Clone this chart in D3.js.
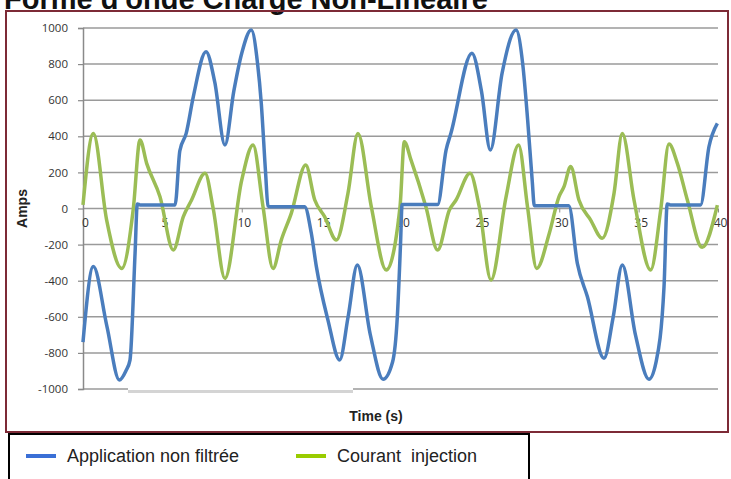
<!DOCTYPE html>
<html>
<head>
<meta charset="utf-8">
<script src="https://cdn.jsdelivr.net/npm/d3@7"></script>
<style>
  body { margin: 0; background: #fff; }
  svg { display: block; }
</style>
</head>
<body>
<div id="chart"></div>
<script>
// x ticks and y ticks
var xTicks = [0, 5, 10, 15, 20, 25, 30, 35, 40];
var yTicks = [-1000, -800, -600, -400, -200, 0, 200, 400, 600, 800, 1000];

// Application non filtrée (blue) : time / amps
var blueT = [0, 0.65, 1.5, 2.29, 2.7, 2.96, 3.28, 3.42, 3.6, 5.8, 6.1, 6.5, 6.95, 7.75, 8.3, 8.94, 9.5, 10.0, 10.6, 11.0, 11.23, 11.5, 11.65, 11.8, 13.96,
  14.38, 14.7, 15.43, 16.17, 16.7, 17.28, 18.1, 18.9, 19.5, 19.8, 20.0, 20.1, 22.34, 22.87, 23.18, 24.5, 25.1, 25.66, 26.4, 27.28, 27.7, 28.01, 28.3, 28.43, 28.6,
  30.6, 31.14, 31.77, 32.82, 33.4, 33.97, 34.8, 35.65, 36.1, 36.6, 36.8, 37.0, 38.9, 39.43, 39.96];
var blueV = [-740, -322, -650, -950, -900, -840, -247, 25, 20, 20, 320, 416, 620, 869, 700, 352, 650, 860, 989, 800, 583, 200, 15, 10, 10,
  -136, -322, -618, -839, -600, -313, -700, -946, -850, -600, -200, 22, 22, 324, 418, 860, 650, 324, 750, 989, 800, 490, 150, 15, 15,
  15, -304, -488, -830, -600, -313, -700, -946, -850, -433, 25, 20, 20, 342, 472];

// Courant injection (green)
var greenT = [0, 0.65, 1.49, 2.44, 3.17, 3.59, 4.01, 4.85, 5.69, 6.32, 6.84, 7.69, 8.2, 8.94, 10.0, 10.71, 11.34, 11.97, 12.49, 13.12, 14.03, 14.6, 15.22, 15.96,
  16.69, 17.32, 18.16, 19.1, 19.97, 20.24, 20.66, 21.6, 22.34, 23.08, 23.5, 24.38, 24.96, 25.7, 26.65, 27.44, 28.0, 28.58, 29.37, 29.98, 30.3, 30.72,
  31.24, 31.98, 32.71, 33.45, 33.97, 34.71, 35.76, 36.39, 36.91, 37.44, 38.07, 39.0, 39.96];
var greenV = [20, 416, -64, -332, 0, 380, 250, 65, -230, -45, 47, 195, 0, -387, 158, 352, 10, -332, -175, -27, 241, 47, -45, -175,
  84, 416, 10, -341, 10, 370, 269, 10, -230, -8, 47, 195, 10, -396, 65, 352, 10, -332, -138, 65, 121, 232,
  47, -64, -165, 84, 416, 47, -341, -8, 357, 250, 47, -215, 19];

var W = 731, H = 479;
var svg = d3.select("#chart").append("svg").attr("width", W).attr("height", H);

// title (top half cut off, as in the source image)
svg.append("text")
  .attr("x", 4).attr("y", 9)
  .style("font-family", "Liberation Sans, Arial, sans-serif")
  .style("font-weight", "bold").style("font-size", "29px")
  .attr("fill", "#111")
  .text("Forme d'onde Charge Non-Linéaire");

// frame
svg.append("rect").attr("x", 6).attr("y", 11).attr("width", 722).attr("height", 421)
  .attr("fill", "none").attr("stroke", "#7d2a36").attr("stroke-width", 2);

var x = d3.scaleLinear().domain([0, 40]).range([83, 718]);
var y = d3.scaleLinear().domain([-1000, 1000]).range([389, 28]);

// gridlines
svg.append("g").selectAll("line").data(yTicks).enter().append("line")
  .attr("x1", x(0)).attr("x2", x(40))
  .attr("y1", d => y(d)).attr("y2", d => y(d))
  .attr("stroke", "#9a9a9a").attr("stroke-width", 1.5);

// white patch / grey bar near the bottom (scan artifact)
svg.append("rect").attr("x", 128).attr("y", 384).attr("width", 225).attr("height", 7).attr("fill", "#fff");
svg.append("rect").attr("x", 128).attr("y", 390).attr("width", 225).attr("height", 3).attr("fill", "#d4d4d4");

// y axis
var yAxis = svg.append("g").attr("transform", "translate(" + x(0) + ",0)")
  .call(d3.axisLeft(y).tickValues(yTicks).tickFormat(d => String(d)).tickSize(5).tickPadding(10));
yAxis.select(".domain").attr("stroke", "#8a8a8a").attr("stroke-width", 1.5);
yAxis.selectAll(".tick line").attr("stroke", "#8a8a8a").attr("stroke-width", 1.2);
yAxis.selectAll("text").style("font-family", "Open Sans, Liberation Sans, sans-serif")
  .style("font-size", "11.5px").attr("fill", "#333");

// x axis through zero
var xAxis = svg.append("g").attr("transform", "translate(0," + y(0) + ")")
  .call(d3.axisBottom(x).tickValues(xTicks).tickSize(4).tickPadding(6));
xAxis.select(".domain").remove();
xAxis.selectAll(".tick line").attr("stroke", "#8a8a8a");
xAxis.selectAll("text").attr("dx", "2").style("font-family", "Open Sans, Liberation Sans, sans-serif")
  .style("font-size", "12px").attr("fill", "#333");

// series
var line = d3.line().x(d => x(d[0])).y(d => y(d[1])).curve(d3.curveMonotoneX);
var greenData = d3.zip(greenT, greenV);
var blueData = d3.zip(blueT, blueV);

svg.append("path").datum(greenData).attr("d", line)
  .attr("fill", "none").attr("stroke", "#9bbd55").attr("stroke-width", 3.5)
  .attr("stroke-linejoin", "round");
svg.append("path").datum(blueData).attr("d", line)
  .attr("fill", "none").attr("stroke", "#4a7dbd").attr("stroke-width", 3.5)
  .attr("stroke-linejoin", "round");

// axis titles
svg.append("text")
  .attr("transform", "translate(27," + y(0) + ") rotate(-90)")
  .attr("text-anchor", "middle")
  .style("font-family", "Liberation Sans, Arial, sans-serif")
  .style("font-weight", "bold").style("font-size", "14px").attr("fill", "#222")
  .text("Amps");
svg.append("text")
  .attr("x", 376).attr("y", 421)
  .attr("text-anchor", "middle")
  .style("font-family", "Liberation Sans, Arial, sans-serif")
  .style("font-weight", "bold").style("font-size", "14px").attr("fill", "#222")
  .text("Time (s)");

// legend
svg.append("rect").attr("x", 9).attr("y", 434).attr("width", 520).attr("height", 60)
  .attr("fill", "#fff").attr("stroke", "#000").attr("stroke-width", 2);

var legendItems = [
  { name: "Application non filtrée", color: "#3a6fd6", x0: 26 },
  { name: "Courant  injection", color: "#99cc00", x0: 296 }
];
var lg = svg.append("g").selectAll("g").data(legendItems).enter().append("g");
lg.append("line").attr("x1", d => d.x0).attr("x2", d => d.x0 + 30)
  .attr("y1", 456).attr("y2", 456).attr("stroke", d => d.color).attr("stroke-width", 4);
lg.append("text").attr("x", d => d.x0 + 41).attr("y", 462)
  .style("font-family", "Liberation Sans, Arial, sans-serif")
  .style("font-size", "18px").attr("fill", "#222")
  .style("white-space", "pre").attr("xml:space", "preserve")
  .text(d => d.name);
</script>
</body>
</html>
